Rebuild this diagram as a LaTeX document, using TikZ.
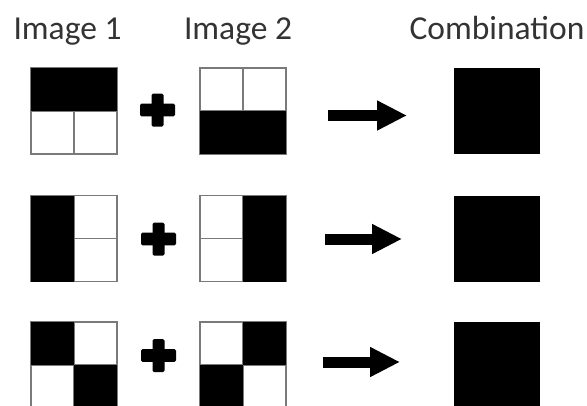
\documentclass[tikz,border=0pt]{standalone}
\usepackage{fontspec}
\setmainfont{Carlito}
\usetikzlibrary{arrows.meta}
\definecolor{txtgray}{HTML}{333333}
\definecolor{gridgray}{HTML}{7A7A7A}
\tikzset{
  cellbox/.style={draw=gridgray, line width=1.4pt, fill=white, minimum width=86pt, minimum height=86pt, inner sep=0pt, outer sep=0pt},
  fullbox/.style={fill=black, minimum width=86pt, minimum height=86pt, inner sep=0pt, outer sep=0pt},
  gridline/.style={draw=gridgray, line width=1.4pt},
  header/.style={text=txtgray, font=\fontsize{33.5}{40}\selectfont, anchor=base, inner sep=0pt},
  bigarrow/.style={line width=11pt, -{Triangle[length=30pt,width=28pt]}},
  plusbar/.style={fill=black, rounded corners=1.5pt}
}
\begin{document}
\begin{tikzpicture}[x=1pt,y=-1pt]
\useasboundingbox (0,0) rectangle (587,405);
\clip (0,0) rectangle (587,405);
\fill[white] (0,0) rectangle (587,405);
% headers
\node[header] (h1) at (67.5,39) {Image 1};
\node[header] (h2) at (238,39) {Image 2};
\node[header] (h3) at (497,39) {Combination};
% boxes
\foreach \r/\y in {1/111,2/238.5,3/365}{
  \node[cellbox] (a\r) at (74,\y) {};
  \node[cellbox] (b\r) at (243,\y) {};
  \node[fullbox] (c\r) at (496.5,\y) {};
  \draw[gridline] (a\r.north) -- (a\r.south) (a\r.west) -- (a\r.east);
  \draw[gridline] (b\r.north) -- (b\r.south) (b\r.west) -- (b\r.east);
}
% row 1
\fill (a1.north west) rectangle (a1.east);
\fill (b1.west) rectangle (b1.south east);
% row 2
\fill (a2.north west) rectangle (a2.south);
\fill (b2.north) rectangle (b2.south east);
% row 3
\fill (a3.north west) rectangle (a3.center);
\fill (a3.center) rectangle (a3.south east);
\fill (b3.north) rectangle (b3.east);
\fill (b3.west) rectangle (b3.south);
% plus signs
\coordinate (p1) at (157.5,110);
\coordinate (p2) at (158.5,239);
\coordinate (p3) at (158.5,355.5);
\foreach \p in {p1,p2,p3}{
  \fill[plusbar] ([shift={(-17.5,-6.3)}]\p) rectangle ([shift={(17.5,6.3)}]\p);
  \fill[plusbar] ([shift={(-6,-16.5)}]\p) rectangle ([shift={(6,16.5)}]\p);
}
% arrows
\coordinate (s1) at (328,115.5); \coordinate (e1) at (407,115.5);
\coordinate (s2) at (325,239);   \coordinate (e2) at (402,239);
\coordinate (s3) at (323,362);   \coordinate (e3) at (400,362);
\draw[bigarrow] (s1) -- (e1);
\draw[bigarrow] (s2) -- (e2);
\draw[bigarrow] (s3) -- (e3);
\end{tikzpicture}
\end{document}
